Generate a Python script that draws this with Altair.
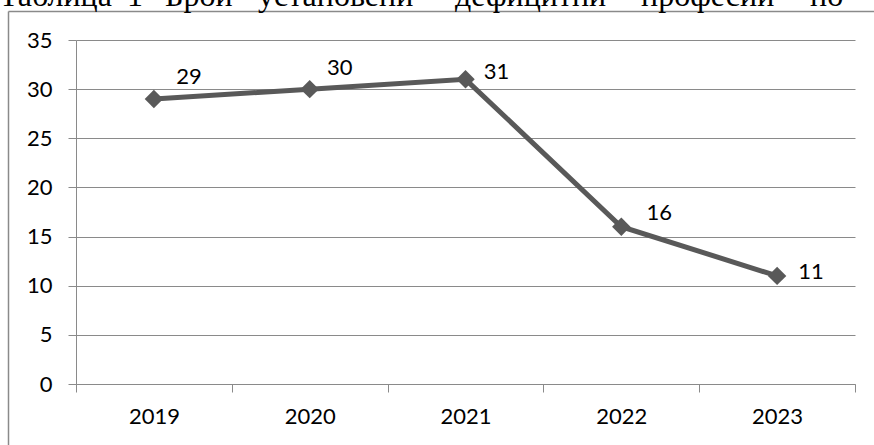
import altair as alt
import pandas as pd

years = ["2019", "2020", "2021", "2022", "2023"]
values = [29, 30, 31, 16, 11]
y_ticks = [0, 5, 10, 15, 20, 25, 30, 35]
title_words = ["Таблица", "1", "Брой", "установени", "дефицитни", "професии", "по"]

df = pd.DataFrame({"year": years, "value": values})

W, H = 779, 344
PAD_L, PAD_T = 76, 40
GRID = "#8a8a8a"
LINE = "#595959"
FONT = "Lato"
FS = 22

base = alt.Chart(df)

x_enc = alt.X(
    "year:N",
    sort=years,
    title=None,
    scale=alt.Scale(paddingInner=0, paddingOuter=0),
    axis=alt.Axis(
        tickBand="extent",
        labelAngle=0,
        grid=False,
        domainColor=GRID,
        tickColor=GRID,
        tickSize=8,
        labelPadding=14,
        labelFont=FONT,
        labelFontSize=FS,
        labelColor="#000000",
    ),
)
y_enc = alt.Y(
    "value:Q",
    title=None,
    scale=alt.Scale(domain=[0, 35], nice=False, zero=True),
    axis=alt.Axis(
        values=y_ticks,
        grid=True,
        gridColor=GRID,
        domainColor=GRID,
        tickColor=GRID,
        tickSize=8,
        labelPadding=16,
        labelFont=FONT,
        labelFontSize=FS,
        labelColor="#000000",
    ),
)

line = base.mark_line(color=LINE, strokeWidth=5).encode(x=x_enc, y=y_enc)
pts = base.mark_point(shape="diamond", filled=True, size=340, color=LINE, opacity=1).encode(
    x=alt.X("year:N", sort=years), y="value:Q"
)

# label offsets (style)
offsets = [(35, -22), (30, -21), (31, -7), (38, -14), (34, -4)]
label_layers = []
for yr, (dx, dy) in zip(years, offsets):
    label_layers.append(
        base.transform_filter(alt.datum.year == yr)
        .mark_text(font=FONT, fontSize=FS, color="#000000", dx=dx, dy=dy, align="center", baseline="middle")
        .encode(x=alt.X("year:N", sort=years), y="value:Q", text="value:Q")
    )

one = alt.Data(values=[{"k": 1}])
frame_left = alt.Chart(one).mark_rule(color=GRID, strokeWidth=1.5).encode(
    x=alt.value(8.5 - PAD_L), y=alt.value(11.5 - PAD_T), y2=alt.value(445 - PAD_T)
)
frame_top = alt.Chart(one).mark_rule(color=GRID, strokeWidth=1.5).encode(
    x=alt.value(8.5 - PAD_L), x2=alt.value(874 - PAD_L), y=alt.value(11.5 - PAD_T)
)

word_x = [-1, 127, 165, 258, 455, 641, 810]
word_layers = []
for w, px in zip(title_words, word_x):
    word_layers.append(
        alt.Chart(one)
        .mark_text(font="Liberation Serif", fontSize=32, color="#000000", align="left", baseline="alphabetic")
        .encode(x=alt.value(px - PAD_L), y=alt.value(6 - PAD_T), text=alt.value(w))
    )

chart = (
    alt.layer(frame_left, frame_top, *word_layers, line, pts, *label_layers)
    .properties(
        width=W,
        height=H,
        autosize=alt.AutoSizeParams(type="none"),
        padding={"left": PAD_L, "top": PAD_T, "right": 874 - PAD_L - W, "bottom": 445 - PAD_T - H},
        background="#ffffff",
    )
    .configure_view(stroke=None)
)

chart.save("out.html", embed_options={"renderer": "svg", "actions": False})
